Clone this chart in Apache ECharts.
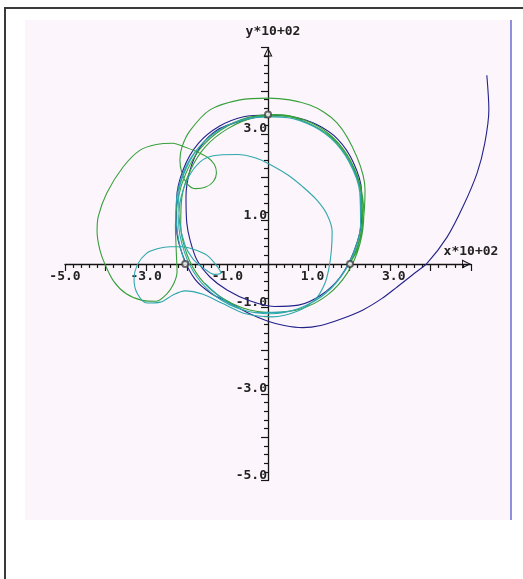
<!DOCTYPE html>
<html>
<head>
<meta charset="utf-8">
<script src="https://cdn.jsdelivr.net/npm/echarts/dist/echarts.min.js"></script>
<style>
  html, body { margin: 0; padding: 0; background: #ffffff; }
  #chart { width: 523px; height: 579px; }
</style>
</head>
<body>
<div id="chart"></div>
<script>
// Orbit tracks, in units of 10^2 (x, y)
const navyTrack = [
  [0.00,3.45],[-0.69,3.30],[-1.26,3.09],[-1.67,2.70],[-1.92,2.17],[-2.02,1.55],[-2.00,0.95],
  [-1.92,0.55],[-1.75,0.09],[-1.43,-0.30],[-1.01,-0.60],[-0.45,-0.85],[0.15,-0.98],[0.75,-0.95],
  [1.30,-0.72],[1.78,-0.30],[2.12,0.30],[2.30,1.00],[2.30,1.70],[2.10,2.35],[1.72,2.88],
  [1.20,3.22],[0.60,3.40],[0.00,3.44],[-0.60,3.40],[-1.20,3.18],[-1.72,2.78],[-2.08,2.20],
  [-2.25,1.50],[-2.25,0.80],[-2.10,0.20],[-1.80,-0.35],[-1.40,-0.68],[-0.94,-0.90],[-0.45,-1.15],
  [0.00,-1.32],[0.40,-1.42],[0.85,-1.47],[1.30,-1.42],[1.80,-1.27],[2.34,-1.06],[2.80,-0.80],
  [3.18,-0.53],[3.60,-0.22],[3.92,0.02],[4.41,0.62],[4.80,1.32],[5.15,2.10],[5.34,2.79],
  [5.44,3.56],[5.39,4.36]
];

const greenTrack = [
  [2.02,0.02],[2.19,0.32],[2.34,0.95],[2.39,1.71],[2.19,2.47],[1.70,3.26],[1.03,3.67],[0.00,3.83],
  [-0.69,3.79],[-1.43,3.56],[-1.92,3.08],[-2.12,2.70],[-2.17,2.40],[-2.12,2.10],[-1.98,1.84],
  [-1.78,1.74],[-1.55,1.77],[-1.35,1.90],[-1.27,2.10],[-1.32,2.30],[-1.50,2.47],[-1.75,2.59],
  [-2.05,2.70],[-2.34,2.79],[-2.75,2.76],[-3.15,2.63],[-3.57,2.24],[-3.97,1.64],[-4.18,1.10],
  [-4.21,0.75],[-4.14,0.32],[-4.01,-0.02],[-3.80,-0.40],[-3.50,-0.68],[-3.10,-0.84],[-2.75,-0.86],
  [-2.50,-0.70],[-2.32,-0.45],[-2.24,-0.18],[-2.26,0.30],[-2.28,0.90],[-2.22,1.50],[-2.02,2.10],
  [-1.68,2.65],[-1.15,3.10],[-0.50,3.38],[0.20,3.45],[0.88,3.33],[1.48,3.02],[1.95,2.52],
  [2.26,1.86],[2.36,1.15],[2.26,0.45],[1.96,-0.20],[1.46,-0.72],[0.80,-1.04],[0.10,-1.12],
  [-0.60,-1.02],[-1.20,-0.74],[-1.68,-0.32],[-2.00,0.23],[-2.15,0.90],[-2.12,1.55],[-1.92,2.15],
  [-1.55,2.70],[-1.00,3.12],[-0.35,3.38],[0.35,3.42],[1.00,3.25],[1.58,2.90],[2.02,2.35],
  [2.28,1.70],[2.33,1.00],[2.20,0.40],[2.02,0.02]
];

const tealTrack = [
  [-2.04,0.00],[-2.20,0.55],[-2.27,1.20],[-2.18,1.85],[-1.90,2.45],[-1.42,2.95],[-0.80,3.28],
  [-0.10,3.40],[0.60,3.36],[1.25,3.12],[1.80,2.65],[2.17,2.02],[2.30,1.30],[2.22,0.55],
  [1.92,-0.12],[1.42,-0.68],[0.78,-1.02],[0.05,-1.15],[-0.65,-1.05],[-1.28,-0.75],[-1.75,-0.30],
  [-2.06,0.28],[-2.20,0.95],[-2.14,1.55],[-1.95,2.02],[-1.67,2.36],[-1.35,2.50],[-0.76,2.53],
  [-0.30,2.45],[0.05,2.30],[0.50,2.05],[0.86,1.78],[1.20,1.48],[1.45,1.15],[1.58,0.75],
  [1.56,0.30],[1.50,-0.10],[1.40,-0.45],[1.18,-0.80],[0.75,-1.08],[0.10,-1.22],[-0.55,-1.15],
  [-1.10,-0.92],[-1.60,-0.70],[-2.05,-0.62],[-2.35,-0.72],[-2.65,-0.88],[-2.98,-0.90],
  [-3.22,-0.68],[-3.30,-0.35],[-3.22,-0.02],[-3.00,0.24],[-2.73,0.35],[-2.41,0.40],[-2.10,0.40],
  [-1.80,0.33],[-1.50,0.20],[-1.28,-0.02],[-1.16,-0.21],[-1.32,-0.24],[-1.58,-0.10],[-1.85,0.12],
  [-2.05,0.45],[-2.18,1.00],[-2.20,1.60],[-2.02,2.20],[-1.65,2.75],[-1.10,3.15],[-0.45,3.36],
  [0.25,3.40],[0.95,3.25],[1.55,2.90],[2.00,2.35],[2.26,1.65],[2.28,0.90],[2.08,0.20],
  [1.70,-0.40],[1.15,-0.85],[0.45,-1.10],[-0.30,-1.12],[-1.00,-0.88],[-1.55,-0.45]
];

// Starting positions of the three bodies
const startPoints = [[0.00,3.45],[-2.04,0.00],[2.02,0.00]];

// Labelled ticks
const xLabelValues = [-5, -3, -1, 1, 3];
const xLabelTexts  = ['-5.0', '-3.0', '-1.0', ' 1.0', ' 3.0'];
const yLabelValues = [3, 1, -1, -3, -5];
const yLabelTexts  = ['3.0', '1.0', '-1.0', '-3.0', '-5.0'];

const monoFont = {
  fontFamily: 'DejaVu Sans Mono',
  fontWeight: 'bold',
  fontSize: 13,
  color: '#222222'
};

// Hollow arrow head: outer triangle with an inner triangle of opposite winding
const hollowArrow = 'path://M5,0 L10,10 L0,10 Z M5,2.6 L1.9,9 L8.1,9 Z';

function pickLabel(values, texts) {
  return function (v) {
    const i = values.indexOf(Math.round(v * 1000) / 1000);
    return i >= 0 ? texts[i] : '';
  };
}

const axisColor = '#151515';

// Plot frame: both axes span -5..5; the axes cross at the centre of the frame
const frame = { left: 65, top: 47.5, width: 406, height: 433 };
const xSpan = [-5, 5];
const ySpan = [-5, 5];
// The tracks may run past the right end of the x axis
const trackXMax = 5.6;
const pxPerX = frame.width / (xSpan[1] - xSpan[0]);
const pxPerY = frame.height / (ySpan[1] - ySpan[0]);

const chart = echarts.init(document.getElementById('chart'), null, { renderer: 'canvas' });

chart.setOption({
  animation: false,
  backgroundColor: '#ffffff',
  graphic: [
    {
      type: 'rect', z: -10, silent: true,
      shape: { x: 25, y: 20, width: 486, height: 500 },
      style: { fill: '#fcf5fb' }
    },
    {
      type: 'line', z: -9, silent: true,
      shape: { x1: 511, y1: 20, x2: 511, y2: 520 },
      style: { stroke: '#6b6bcf', lineWidth: 1.5 }
    },
    {
      type: 'polyline', z: -9, silent: true,
      shape: { points: [[5, 579], [5, 8], [523, 8]] },
      style: { stroke: '#3a3a3a', lineWidth: 2, fill: null }
    }
  ],
  grid: [
    {
      left: frame.left, top: frame.top, width: frame.width, height: frame.height,
      containLabel: false
    },
    {
      left: frame.left, top: frame.top,
      width: pxPerX * (trackXMax - xSpan[0]), height: frame.height,
      containLabel: false
    }
  ],
  xAxis: [
    {
      gridIndex: 0, type: 'value', min: xSpan[0], max: xSpan[1], interval: 1,
      position: 'bottom', offset: -pxPerY * (0 - ySpan[0]),
      name: 'x*10+02', nameLocation: 'end', nameGap: 0,
      nameTextStyle: Object.assign({}, monoFont, {
        align: 'center', verticalAlign: 'bottom', padding: [0, 0, 6, 0]
      }),
      axisLine: {
        onZero: false,
        lineStyle: { color: axisColor, width: 1.3 },
        symbol: ['none', hollowArrow],
        symbolSize: [13, 9],
        symbolOffset: [0, -4.5]
      },
      axisTick: { show: true, inside: false, length: 7, lineStyle: { color: axisColor, width: 1.2 } },
      minorTick: { show: true, splitNumber: 5, length: 4, lineStyle: { color: axisColor, width: 1.2 } },
      axisLabel: Object.assign({}, monoFont, {
        margin: 6, showMinLabel: true, showMaxLabel: true,
        formatter: pickLabel(xLabelValues, xLabelTexts)
      }),
      splitLine: { show: false }
    },
    {
      gridIndex: 1, type: 'value', min: xSpan[0], max: trackXMax, show: false
    }
  ],
  yAxis: [
    {
      gridIndex: 0, type: 'value', min: ySpan[0], max: ySpan[1], interval: 1,
      position: 'left', offset: -pxPerX * (0 - xSpan[0]),
      name: 'y*10+02', nameLocation: 'end', nameGap: 9,
      nameTextStyle: Object.assign({}, monoFont, { align: 'center', padding: [0, 0, 0, 10] }),
      axisLine: {
        onZero: false,
        lineStyle: { color: axisColor, width: 1.3 },
        symbol: ['none', hollowArrow],
        symbolSize: [17, 9],
        symbolOffset: [0, -4.5]
      },
      axisTick: { show: true, inside: false, length: 7, lineStyle: { color: axisColor, width: 1.2 } },
      minorTick: { show: true, splitNumber: 5, length: 4, lineStyle: { color: axisColor, width: 1.2 } },
      axisLabel: Object.assign({}, monoFont, {
        margin: 1, verticalAlign: 'bottom', lineHeight: 10,
        showMinLabel: true, showMaxLabel: true,
        formatter: pickLabel(yLabelValues, yLabelTexts)
      }),
      splitLine: { show: false }
    },
    {
      gridIndex: 1, type: 'value', min: ySpan[0], max: ySpan[1], show: false
    }
  ],
  series: [
    {
      name: 'body 1', type: 'line', data: navyTrack, clip: false,
      xAxisIndex: 1, yAxisIndex: 1,
      symbol: 'none', smooth: 0.3, z: 3,
      lineStyle: { color: '#22228a', width: 1.1 }
    },
    {
      name: 'body 2', type: 'line', data: greenTrack, clip: false,
      xAxisIndex: 1, yAxisIndex: 1,
      symbol: 'none', smooth: 0.3, z: 3,
      lineStyle: { color: '#36a03a', width: 1.1 }
    },
    {
      name: 'body 3', type: 'line', data: tealTrack, clip: false,
      xAxisIndex: 1, yAxisIndex: 1,
      symbol: 'none', smooth: 0.3, z: 3,
      lineStyle: { color: '#2ea8ac', width: 1.1 }
    },
    {
      name: 'start', type: 'scatter', data: startPoints, clip: false,
      xAxisIndex: 1, yAxisIndex: 1,
      symbol: 'emptyCircle', symbolSize: 6, z: 5,
      itemStyle: { color: '#444444', borderColor: '#444444', borderWidth: 1 }
    }
  ]
});
</script>
</body>
</html>
